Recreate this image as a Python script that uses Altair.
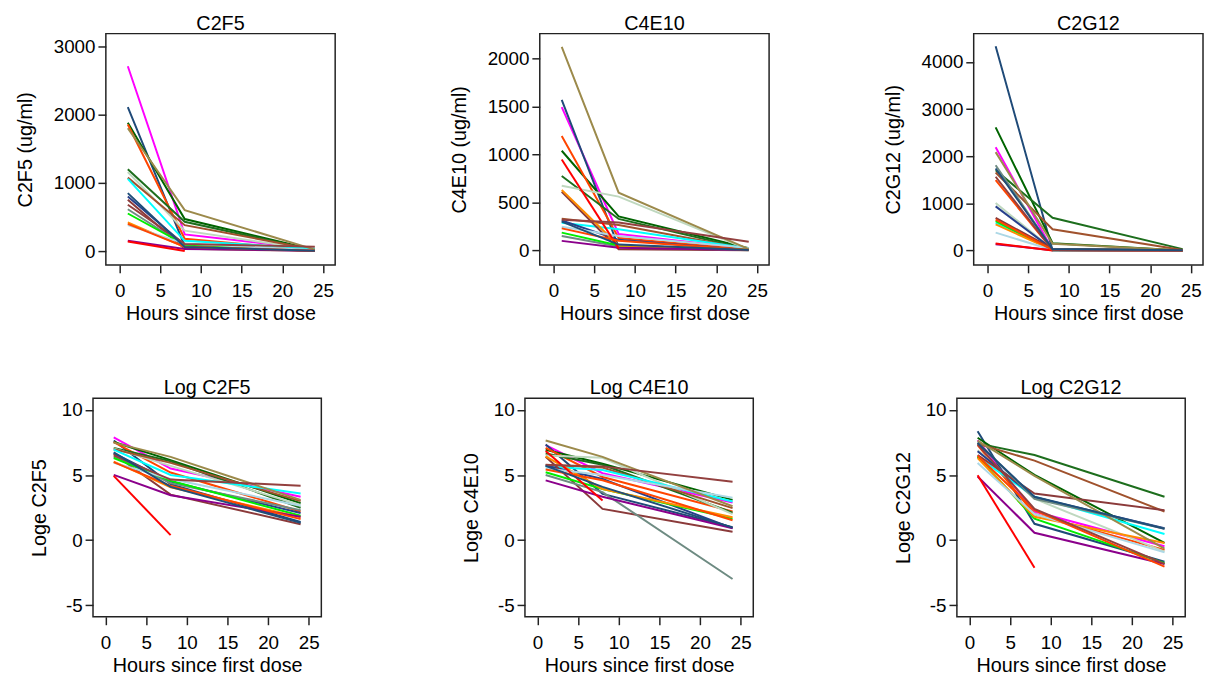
import altair as alt
import pandas as pd
import numpy as np

hours = [1, 8, 24]
subjects = ["S01", "S02", "S03", "S04", "S05", "S06", "S07", "S08", "S09", "S10",
            "S11", "S12", "S13", "S14", "S15", "S16", "S17", "S18", "S19", "S20"]
colors = ["#FF00FF", "#1F4A78", "#006400", "#FF4500", "#1D6E1D", "#BFD8BF", "#A0522D",
          "#00FFFF", "#27408B", "#8B3A3A", "#6E8B82", "#00EE00", "#FF8C00", "#ADD8E6",
          "#8B008B", "#FF0000", "#9C8A4B", "#FF4500", "#93403F", "#1F4E79"]

nan = float("nan")
# C2F5 (ug/ml) at 1, 8, 24 hours
c2f5_h1 = [2710, 2110, 1880, 1855, 1200, 1160, 1077, 1058, 801, 754, 613, 551, 420, 381, 150, 140, 1800, 400, 680, 850]
c2f5_h8 = [245, 74, 470, 180, 430, 300, 380, 150, 90, 33, 80, 96, 58, 110, 31.6, 1.47, 600, 65, 105, 60]
c2f5_h24 = [28, 4.0, 17, 9, 12, 15, 20, 36, 8, 3.4, 10, 6.5, 5.8, 14, 6, nan, 22, 5, 65, 3.8]
# C4E10 (ug/ml)
c4e10_h1 = [1494, 1569, 1039, 1193, 776, 674, 331, 287, 311, 612, 150, 185, 629, 246, 99, 947, 2123, 229, 320, 300]
c4e10_h8 = [171, 35, 354, 128, 328, 561, 264, 220, 110, 11, 40, 51, 51, 150, 28, 21, 602, 100, 290, 60]
c4e10_h24 = [18, 2.7, 22, 9, 8.3, 7.4, 11.7, 19.5, 2.5, 1.9, 0.05, 5.2, 5.8, 26, 2.5, nan, 13.5, 4.6, 89, 2.6]
# C2G12 (ug/ml)
c2g12_h1 = [2192, 4335, 2611, 1494, 1703, 1005, 1654, 586, 935, 690, 1808, 621, 551, 377, 133, 146, 2087, 656, 1564, 1738]
c2g12_h8 = [9, 3.5, 151, 7.4, 692, 24, 450, 28, 27, 36, 24, 5.2, 6.0, 7.4, 1.75, 0.12, 140, 10, 11, 28]
c2g12_h24 = [0.62, 0.19, 0.8, 0.47, 28, 0.41, 9, 1.6, 2.5, 10, 2.4, 0.17, 0.8, 0.39, 0.16, nan, 0.52, 0.13, 0.16, 2.4]

xticks = [0, 5, 10, 15, 20, 25]
FONT = "Liberation Sans"


def long_df(h1, h8, h24):
    rows = []
    for i, s in enumerate(subjects):
        for h, v in zip(hours, [h1[i], h8[i], h24[i]]):
            rows.append({"subject": s, "hour": h, "value": v,
                         "logvalue": float(np.log(v)) if v == v else None})
    return pd.DataFrame(rows)


d_c2f5 = long_df(c2f5_h1, c2f5_h8, c2f5_h24)
d_c4e10 = long_df(c4e10_h1, c4e10_h8, c4e10_h24)
d_c2g12 = long_df(c2g12_h1, c2g12_h8, c2g12_h24)

LBL = "'' + datum.value"


def lines(df, field, ytitle, ydomain, yticks, xdomain, ytitlepad):
    return alt.Chart(df).mark_line(strokeWidth=2, clip=True).encode(
        x=alt.X("hour:Q",
                scale=alt.Scale(domain=xdomain, nice=False, zero=False),
                axis=alt.Axis(values=xticks, title="Hours since first dose",
                              titlePadding=3, labelPadding=9, labelExpr=LBL)),
        y=alt.Y(f"{field}:Q",
                scale=alt.Scale(domain=ydomain, nice=False, zero=False),
                axis=alt.Axis(values=yticks, title=ytitle, titlePadding=ytitlepad,
                              labelPadding=3, labelExpr=LBL)),
        color=alt.Color("subject:N", scale=alt.Scale(domain=subjects, range=colors), legend=None),
    )


def pad_point(px, py):
    # white layout dot in the blank left margin: fixes each panel's outer extent
    return alt.Chart(pd.DataFrame({"a": [0]})).mark_point(
        filled=True, color="white", size=4, strokeWidth=0
    ).encode(x=alt.value(px), y=alt.value(py))


def row_anchor():
    # 1px invisible first cell, so both rows share the same left origin
    return alt.Chart(pd.DataFrame({"a": [0]})).mark_point(
        filled=True, color="white", size=1, strokeWidth=0
    ).encode(x=alt.value(0.5), y=alt.value(0.5)).properties(
        width=1, height=1, view=alt.ViewBackground(stroke="transparent", fill="transparent")
    )


def ttl(text):
    return alt.TitleParams(text, fontSize=20, fontWeight="normal", font=FONT,
                           anchor="middle", frame="group", offset=0)


TX = [-1.7, 26.5]
BX = [-1.55, 26.55]
TW, TH = 232, 234
BW, BH = 231, 221
LOGY = [-5.9, 10.9]


def top_panel(df, ytitle, ydom, yt, title):
    return alt.layer(
        lines(df, "value", ytitle, ydom, yt, TX, 18), pad_point(-94, TH - 4)
    ).properties(width=TW, height=TH, title=ttl(title))


def bottom_panel(df, ytitle, title, left):
    return alt.layer(
        lines(df, "logvalue", ytitle, LOGY, [-5, 0, 5, 10], BX, 12), pad_point(-left, BH - 4)
    ).properties(width=BW, height=BH, title=ttl(title))


p1 = top_panel(d_c2f5, "C2F5 (ug/ml)", [-203, 3188], [0, 1000, 2000, 3000], "C2F5")
p2 = top_panel(d_c4e10, "C4E10 (ug/ml)", [-152, 2261], [0, 500, 1000, 1500, 2000], "C4E10")
p3 = top_panel(d_c2g12, "C2G12 (ug/ml)", [-308, 4602], [0, 1000, 2000, 3000, 4000], "C2G12")

p4 = bottom_panel(d_c2f5, "Loge C2F5", "Log C2F5", 81)
p5 = bottom_panel(d_c4e10, "Loge C4E10", "Log C4E10", 69)
p6 = bottom_panel(d_c2g12, "Loge C2G12", "Log C2G12", 69)

row1 = alt.hconcat(row_anchor(), alt.hconcat(p1, p2, p3, spacing=110), spacing=0)
row2 = alt.hconcat(row_anchor(), alt.hconcat(p4, p5, p6, spacing=134), spacing=0)

chart = alt.vconcat(row1, row2, spacing=54).properties(
    padding={"left": 0, "top": 1, "right": 0, "bottom": 0}
).configure_view(
    stroke="#222222", strokeWidth=1.5
).configure_axis(
    domain=False, grid=False, ticks=True, tickSize=8, tickWidth=1.5, tickColor="#222222",
    labelFont=FONT, labelFontSize=19, labelColor="#000000",
    titleFont=FONT, titleFontSize=20, titleFontWeight="normal", titleColor="#000000",
).configure_axisY(labelAlign="right")

chart.save("out.html", embed_options={"renderer": "svg", "actions": False})
